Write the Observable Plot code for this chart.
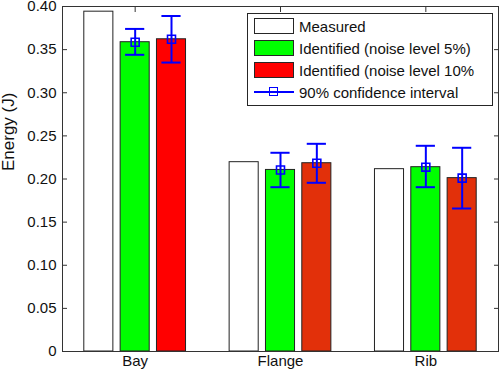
<!DOCTYPE html>
<html>
<head>
<meta charset="utf-8">
<script src="https://cdn.jsdelivr.net/npm/d3@7"></script>
<script src="https://cdn.jsdelivr.net/npm/@observablehq/plot@0.6"></script>
<style>
  html, body { margin: 0; padding: 0; background: #fff; }
  #wrap { position: relative; width: 500px; height: 372px; font-family: "Liberation Sans", Arial, sans-serif; }
  #wrap svg { overflow: visible; }
  .legend { position: absolute; left: 247px; top: 13px; width: 246px; height: 93px; box-sizing: border-box;
            border: 1px solid #262626; background: #fff; padding-top: 1px; }
  .row { height: 22px; display: flex; align-items: center; font-size: 15px; color: #111; white-space: nowrap; overflow: hidden; }
  .sw { width: 40px; height: 16px; box-sizing: border-box; border: 1px solid #262626; margin-left: 6px; margin-right: 5px; flex: none; }
  .ln { position: relative; width: 40px; height: 16px; margin-left: 6px; margin-right: 5px; flex: none; }
  .ln::before { content: ""; position: absolute; left: 0; right: 0; top: 7px; height: 2px; background: #0000ff; }
  .ln::after { content: ""; position: absolute; left: 15px; top: 3px; width: 7px; height: 7px; border: 1.5px solid #0000ff; }
</style>
</head>
<body>
<div id="wrap"></div>
<script>
// ---- data ----
const categories = ["Bay", "Flange", "Rib"];
const measured = [0.394, 0.2195, 0.2114];
const identified5 = [0.3586, 0.2105, 0.2137];
const identified10 = [0.362, 0.2183, 0.2010];
const ci5Lower = [0.344, 0.1905, 0.1905];
const ci5Upper = [0.374, 0.2304, 0.2385];
const ci10Lower = [0.335, 0.1956, 0.1658];
const ci10Upper = [0.389, 0.2408, 0.2362];
const yTicks = [0, 0.05, 0.10, 0.15, 0.20, 0.25, 0.30, 0.35, 0.40];
const yLabel = "Energy (J)";
const seriesNames = ["Measured", "Identified (noise level 5%)", "Identified (noise level 10%", "90% confidence interval"];

// ---- styles ----
const measuredFill = "#ffffff";
const ident5Fill = "#00ff00";
const ident10Fills = ["#ff0000", "#e2300a", "#e2300a"];
const OFFSET = 0.25, HALF = 0.1, CAP = 0.066;

const bars = categories.flatMap((c, i) => [
  {i: i + 1, k: -1, v: measured[i], fill: measuredFill},
  {i: i + 1, k: 0, v: identified5[i], fill: ident5Fill},
  {i: i + 1, k: 1, v: identified10[i], fill: ident10Fills[i]}
]);
const cis = categories.flatMap((c, i) => [
  {i: i + 1, k: 0, v: identified5[i], lo: ci5Lower[i], hi: ci5Upper[i]},
  {i: i + 1, k: 1, v: identified10[i], lo: ci10Lower[i], hi: ci10Upper[i]}
]);
const cx = d => d.i + d.k * OFFSET;

const blank = () => "";
const chart = Plot.plot({
  width: 500,
  height: 372,
  marginLeft: 62,
  marginRight: 2,
  marginTop: 6,
  marginBottom: 21,
  style: {fontFamily: "Liberation Sans, Arial, sans-serif", fontSize: "15px", color: "#111", background: "#fff", overflow: "visible"},
  x: {domain: [0.5, 3.5]},
  y: {domain: [0, 0.4]},
  color: {type: "identity"},
  marks: [
    Plot.axisY({anchor: "left", ticks: yTicks, tickSize: 0, tickPadding: 6, fontSize: 15,
      tickFormat: d => d === 0 ? "0" : d.toFixed(2), label: null}),
    Plot.text([yLabel], {frameAnchor: "left", text: d => d, rotate: -90, dx: -54, dy: -8, fontSize: 17, fill: "#111"}),
    Plot.axisY({anchor: "left", ticks: yTicks, tickSize: 5, dx: 5, tickFormat: blank, label: null, stroke: "#333"}),
    Plot.axisY({anchor: "right", ticks: yTicks, tickSize: 5, dx: -5, tickFormat: blank, label: null, stroke: "#333"}),
    Plot.axisX({anchor: "bottom", ticks: [1, 2, 3], tickSize: 0, tickPadding: 4, fontSize: 15,
      tickFormat: d => categories[d - 1], label: null}),
    Plot.axisX({anchor: "bottom", ticks: [1, 2, 3], tickSize: 5, dy: -5, tickFormat: blank, label: null, stroke: "#333"}),
    Plot.axisX({anchor: "top", ticks: [1, 2, 3], tickSize: 5, dy: 5, tickFormat: blank, label: null, stroke: "#333"}),
    Plot.rectY(bars, {x1: d => cx(d) - HALF, x2: d => cx(d) + HALF, y1: 0, y2: "v",
      fill: "fill", stroke: "#222", strokeWidth: 1}),
    Plot.ruleX(cis, {x: cx, y1: "lo", y2: "hi", stroke: "#0000ff", strokeWidth: 2}),
    Plot.ruleY(cis, {x1: d => cx(d) - CAP, x2: d => cx(d) + CAP, y: "lo", stroke: "#0000ff", strokeWidth: 2}),
    Plot.ruleY(cis, {x1: d => cx(d) - CAP, x2: d => cx(d) + CAP, y: "hi", stroke: "#0000ff", strokeWidth: 2}),
    Plot.dot(cis, {x: cx, y: "v", symbol: "square", r: 4.5, stroke: "#0000ff", strokeWidth: 1.6, fill: "none"}),
    Plot.frame({stroke: "#333"})
  ]
});
const wrap = document.getElementById("wrap");
wrap.appendChild(chart);

// legend
const legend = document.createElement("div");
legend.className = "legend";
const swFills = [measuredFill, ident5Fill, ident10Fills[0]];
seriesNames.forEach((name, j) => {
  const row = document.createElement("div");
  row.className = "row";
  const sw = document.createElement("div");
  if (j < 3) { sw.className = "sw"; sw.style.background = swFills[j]; }
  else sw.className = "ln";
  row.appendChild(sw);
  const t = document.createElement("span");
  t.textContent = name;
  row.appendChild(t);
  legend.appendChild(row);
});
wrap.appendChild(legend);
</script>
</body>
</html>
